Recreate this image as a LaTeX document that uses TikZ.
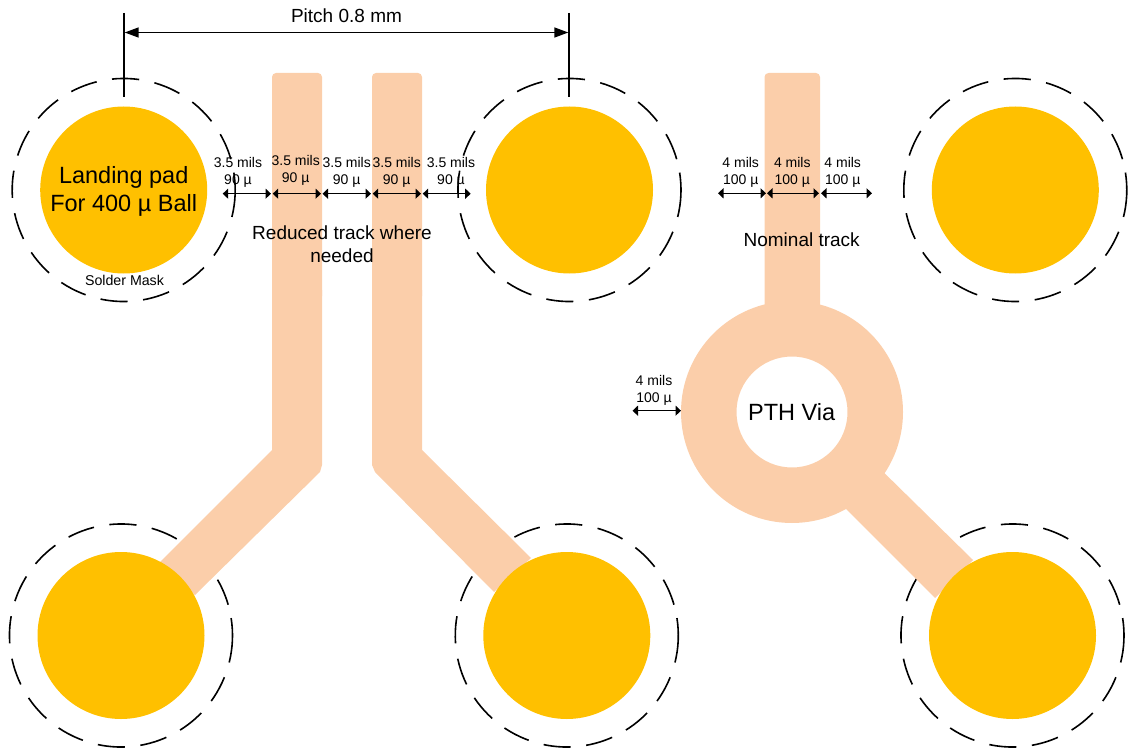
\documentclass[tikz,border=0pt]{standalone}
\usepackage{fontspec}
\setmainfont{Liberation Sans}
\usetikzlibrary{arrows.meta,calc}
\definecolor{padcol}{HTML}{FFC000}
\definecolor{trackcol}{HTML}{FBCEAA}
\tikzset{
  padnode/.style={circle,fill=padcol,minimum size=167pt,inner sep=0pt,align=center,
    font=\fontsize{23.5}{28}\selectfont},
  track/.style={fill=trackcol,draw=none},
  maskdash/.style={line width=1.6pt,line cap=butt},
  dimarrow/.style={line width=1.5pt,{Triangle[length=5.5pt,width=10pt]}-{Triangle[length=5.5pt,width=10pt]}},
  pitcharrow/.style={line width=1.5pt,{Triangle[length=14pt,width=10pt]}-{Triangle[length=14pt,width=10pt]}},
  pitchtick/.style={line width=2pt},
  dimlabel/.style={align=center,inner sep=0pt,font=\fontsize{14}{17}\selectfont},
  biglabel/.style={align=center,inner sep=0pt,font=\fontsize{19}{22.5}\selectfont},
}
% solder-mask ring: 15 regular dashes plus a longer closing one
\newcommand{\maskring}[1]{%
  \draw[maskdash,dash pattern=on 27.24pt off 15.57pt] ($(#1)+(22:111.5)$) arc[start angle=22,end angle=344,radius=111.5];
  \draw[maskdash] ($(#1)+(14:111.5)$) arc[start angle=14,end angle=-9,radius=111.5];
}
\begin{document}
\begin{tikzpicture}[x=1pt,y=-1pt]
\useasboundingbox (0,0) rectangle (1129,751);
\coordinate (c1) at (123.7,190);
\coordinate (c2) at (569.5,190);
\coordinate (c3) at (1015.3,190);
\coordinate (c4) at (121,635.5);
\coordinate (c5) at (566.8,635.5);
\coordinate (c6) at (1012.5,635.5);
\maskring{c1}\maskring{c2}\maskring{c3}\maskring{c4}\maskring{c5}\maskring{c6}
% tracks
\fill[track,rounded corners=4] (272,300) -- (272,73) -- (322,73) -- (322,300) -- cycle;
\fill[track] (272,290) -- (322,290) -- (322,465) -- (320,472) -- (195,595) -- (160,562) -- (272,450) -- cycle;
\fill[track,rounded corners=4] (422,300) -- (422,73) -- (372,73) -- (372,300) -- cycle;
\fill[track] (422,290) -- (372,290) -- (372,465) -- (375,472) -- (494,592) -- (531,558) -- (422,450) -- cycle;
\fill[track,rounded corners=4] (764.5,340) -- (764.5,73) -- (820,73) -- (820,340) -- cycle;
\fill[track] (866,455) -- (973,560) -- (935,598) -- (827,490) -- cycle;
\fill[track,even odd rule] (792,412) circle[radius=111] (792,412) circle[radius=55.5];
% pads
\node[padnode] (pad1) at (c1) {};
\node[padnode] (pad2) at (c2) {};
\node[padnode] (pad3) at (c3) {};
\node[padnode] (pad4) at (c4) {};
\node[padnode] (pad5) at (c5) {};
\node[padnode] (pad6) at (c6) {};
\node[align=center,inner sep=0pt,font=\fontsize{23.5}{28}\selectfont] (padtext) at (123.7,191) {Landing pad\\For 400 µ Ball};
% pitch dimension
\coordinate (tickLa) at (123.7,13);
\coordinate (tickLb) at (123.7,97);
\coordinate (tickRa) at (569,13);
\coordinate (tickRb) at (569,97);
\coordinate (pitchL) at (124.7,32.5);
\coordinate (pitchR) at (568.3,32.5);
\draw[pitchtick] (tickLa) -- (tickLb);
\draw[pitchtick] (tickRa) -- (tickRb);
\draw[pitcharrow] (pitchL) -- (pitchR);
\node[biglabel] (pitchtext) at (346.5,15.5) {Pitch 0.8 mm};
% reduced-track dimensions
\foreach \n/\a/\b in {a/222.7/271,b/272.7/321,c/322.5/371,d/372.7/421,e/422.7/470.7}{
  \coordinate (\n L) at (\a,193.7);
  \coordinate (\n R) at (\b,193.7);
  \draw[dimarrow] (\n L) -- (\n R);
}
\node[dimlabel] (la) at (238,172.2) {3.5 mils\\90 µ};
\node[dimlabel] (lb) at (295.7,170.2) {3.5 mils\\90 µ};
\node[dimlabel] (lc) at (346.7,172.2) {3.5 mils\\90 µ};
\node[dimlabel] (ld) at (396.7,172.2) {3.5 mils\\90 µ};
\node[dimlabel] (le) at (451,172.2) {3.5 mils\\90 µ};
\node[biglabel] (reduced) at (342,244) {Reduced track where\\needed};
% nominal-track dimensions
\foreach \n/\a/\b in {f/718/766,g/767/819,h/821/872}{
  \coordinate (\n L) at (\a,193.3);
  \coordinate (\n R) at (\b,193.3);
  \draw[dimarrow] (\n L) -- (\n R);
}
\node[dimlabel] (lf) at (740.7,172.4) {4 mils\\100 µ};
\node[dimlabel] (lg) at (792.3,172.4) {4 mils\\100 µ};
\node[dimlabel] (lh) at (842.7,172.4) {4 mils\\100 µ};
\node[biglabel] (nominal) at (801.7,239.5) {Nominal track};
% via
\coordinate (viaL) at (632.5,410.7);
\coordinate (viaR) at (681,410.7);
\draw[dimarrow] (viaL) -- (viaR);
\node[dimlabel] (lv) at (654,390) {4 mils\\100 µ};
\node[font=\fontsize{23.5}{28}\selectfont,inner sep=0pt] (via) at (791.7,411.7) {PTH Via};
\node[inner sep=0pt,font=\fontsize{14.2}{17}\selectfont] (mask) at (124.5,280) {Solder Mask};
\end{tikzpicture}
\end{document}
